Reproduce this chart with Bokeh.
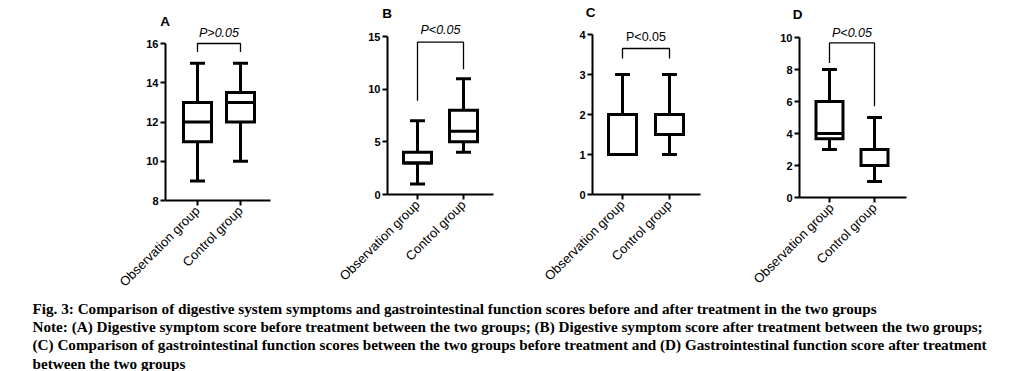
import math
from bokeh.plotting import figure
from bokeh.models import Range1d, FixedTicker
from bokeh.layouts import row, column
from bokeh.embed import file_html
from bokeh.resources import INLINE
from bokeh.core.properties import value

# ---------------- data ----------------
groups = ["Observation group", "Control group"]
group_x = [1, 2]

# Panel A: digestive symptom score before treatment
a_min = [9, 10]
a_q1 = [11, 12]
a_med = [12, 13]
a_q3 = [13, 13.5]
a_max = [15, 15]

# Panel B: digestive symptom score after treatment
b_min = [1, 4]
b_q1 = [3, 5]
b_med = [3, 6]
b_q3 = [4, 8]
b_max = [7, 11]

# Panel C: gastrointestinal function score before treatment
c_min = [1, 1]
c_q1 = [1, 1.5]
c_med = [2, 2]
c_q3 = [2, 2]
c_max = [3, 3]

# Panel D: gastrointestinal function score after treatment
d_min = [3, 1]
d_q1 = [3.67, 2]
d_med = [4, 3]
d_q3 = [6, 3]
d_max = [8, 5]

panel_letters = ["A", "B", "C", "D"]
p_texts = ["P>0.05", "P<0.05", "P<0.05", "P<0.05"]
y_ticks_a = [8, 10, 12, 14, 16]
y_ticks_b = [0, 5, 10, 15]
y_ticks_c = [0, 1, 2, 3, 4]
y_ticks_d = [0, 2, 4, 6, 8, 10]
# significance bracket: [left leg end, top, right leg end]
bracket_a = [15.57, 16.0, 15.57]
bracket_b = [8.9, 14.46, 11.9]
bracket_c = [3.4, 3.65, 3.4]
bracket_d = [8.4, 9.67, 5.7]

caption_lines = [
    "Fig. 3: Comparison of digestive system symptoms and gastrointestinal function scores before and after treatment in the two groups",
    "Note: (A) Digestive symptom score before treatment between the two groups; (B) Digestive symptom score after treatment between the two groups;",
    "(C) Comparison of gastrointestinal function scores between the two groups before treatment and (D) Gastrointestinal function score after treatment",
    "between the two groups",
]

SANS = "Liberation Sans"
ROW_TOP = 0     # page px of the top of the row
ROW_H = 290


def make_panel(letter, mins, q1, med, q3, maxs, yticks, bracket, ptext, italic,
               fig_left, fig_w, px_axis, px_obs, px_ctrl, px_xend,
               px_ybot, px_ytop, ptext_px, letter_px, letter_dx,
               box_px=28, cap_px=15):
    # layout geometry (screen px) -> data ranges
    ux = px_ctrl - px_obs                       # px per x unit
    y0, y1 = yticks[0], yticks[-1]
    uy = (px_ybot - px_ytop) / (y1 - y0)        # px per y unit

    def dx(px):
        return 1 + (px - px_obs) / ux

    def dy(px):
        return y0 + (px_ybot - px) / uy

    fig_bottom = ROW_TOP + ROW_H
    p = figure(width=fig_w, height=ROW_H, output_backend="svg", toolbar_location=None,
               x_range=Range1d(dx(fig_left), dx(fig_left + fig_w)),
               y_range=Range1d(dy(fig_bottom), dy(ROW_TOP)),
               min_border=0, title=None)
    p.outline_line_color = None
    p.grid.visible = False
    p.background_fill_color = "white"
    p.border_fill_color = "white"

    xs = group_x
    bw = box_px / ux
    cw = cap_px / ux
    lw = 3
    # whiskers
    p.segment(x0=xs, y0=q3, x1=xs, y1=maxs, line_width=lw, line_color="black")
    p.segment(x0=xs, y0=mins, x1=xs, y1=q1, line_width=lw, line_color="black")
    # caps
    p.segment(x0=[x - cw / 2 for x in xs], y0=maxs, x1=[x + cw / 2 for x in xs], y1=maxs,
              line_width=lw, line_color="black")
    p.segment(x0=[x - cw / 2 for x in xs], y0=mins, x1=[x + cw / 2 for x in xs], y1=mins,
              line_width=lw, line_color="black")
    # boxes
    p.quad(left=[x - bw / 2 for x in xs], right=[x + bw / 2 for x in xs],
           bottom=q1, top=q3, fill_color="white", line_color="black", line_width=lw,
           line_join="miter")
    # medians
    p.segment(x0=[x - bw / 2 for x in xs], y0=med, x1=[x + bw / 2 for x in xs], y1=med,
              line_width=lw, line_color="black")
    # significance bracket
    p.line(x=[xs[0], xs[0], xs[1], xs[1]], y=[bracket[0], bracket[1], bracket[1], bracket[2]],
           line_width=1.3, line_color="black")
    p.text(x=[(xs[0] + xs[1]) / 2], y=[dy(ptext_px)], text=[ptext], text_align="center",
           text_baseline="middle", text_font=value(SANS),
           text_font_style="italic" if italic else "normal",
           text_font_size="12.5px", text_color="black")
    # panel letter
    p.text(x=[dx(px_axis + letter_dx)], y=[dy(letter_px)], text=[letter], text_align="center",
           text_baseline="middle", text_font=value(SANS), text_font_style="bold",
           text_font_size="13.5px", text_color="black")

    # y axis, pinned at the axis position
    ya = p.yaxis[0]
    ya.fixed_location = dx(px_axis)
    ya.ticker = FixedTicker(ticks=yticks)
    ya.bounds = (y0, y1)
    ya.minor_tick_line_color = None
    ya.major_tick_in = 0
    ya.major_tick_out = 5
    ya.major_tick_line_width = 2
    ya.axis_line_width = 2
    ya.major_label_text_font = SANS
    ya.major_label_text_font_style = "bold"
    ya.major_label_text_font_size = "11px"
    ya.major_label_text_color = "black"
    ya.major_label_standoff = 2

    # x axis, pinned at the lowest y value
    xa = p.xaxis[0]
    xa.fixed_location = y0
    xa.ticker = FixedTicker(ticks=group_x)
    xa.bounds = (dx(px_axis), dx(px_xend))
    xa.major_label_overrides = {gx: g for gx, g in zip(group_x, groups)}
    xa.major_label_orientation = math.pi / 4
    xa.minor_tick_line_color = None
    xa.major_tick_in = 0
    xa.major_tick_out = 5
    xa.major_tick_line_width = 2
    xa.axis_line_width = 2
    xa.major_label_text_font = SANS
    xa.major_label_text_font_size = "13px"
    xa.major_label_text_color = "black"
    xa.major_label_standoff = 3
    return p


pa = make_panel("A", a_min, a_q1, a_med, a_q3, a_max, y_ticks_a, bracket_a, p_texts[0], True,
                0, 290, 165, 197, 240, 270, 200, 43, 32, 21, -0.5)
pb = make_panel("B", b_min, b_q1, b_med, b_q3, b_max, y_ticks_b, bracket_b, p_texts[1], True,
                290, 230, 387, 417, 463, 493, 194, 36, 29, 12.5, -0.5)
pc = make_panel("C", c_min, c_q1, c_med, c_q3, c_max, y_ticks_c, bracket_c, p_texts[2], False,
                520, 230, 592, 622, 669, 700, 194, 34, 36, 11.5, -2)
pd = make_panel("D", d_min, d_q1, d_med, d_q3, d_max, y_ticks_d, bracket_d, p_texts[3], True,
                750, 267, 799, 829, 874, 906, 197, 37, 32, 14, -2, box_px=27)

CAP_H = 81
cap = figure(width=1017, height=CAP_H, output_backend="svg", toolbar_location=None,
             x_range=Range1d(0, 1017), y_range=Range1d(CAP_H, 0),
             x_axis_type=None, y_axis_type=None, min_border=0, title=None)
cap.outline_line_color = None
cap.grid.visible = False
cap.text(x=[32] * 4, y=[17.8, 36.1, 54.4, 72.7], text=caption_lines,
         text_font=value("Liberation Serif"), text_font_style="bold",
         text_font_size="15.2px", text_baseline="alphabetic", text_color="black")

layout = column(row(pa, pb, pc, pd), cap)
open("out.html", "w").write(file_html(layout, INLINE))
